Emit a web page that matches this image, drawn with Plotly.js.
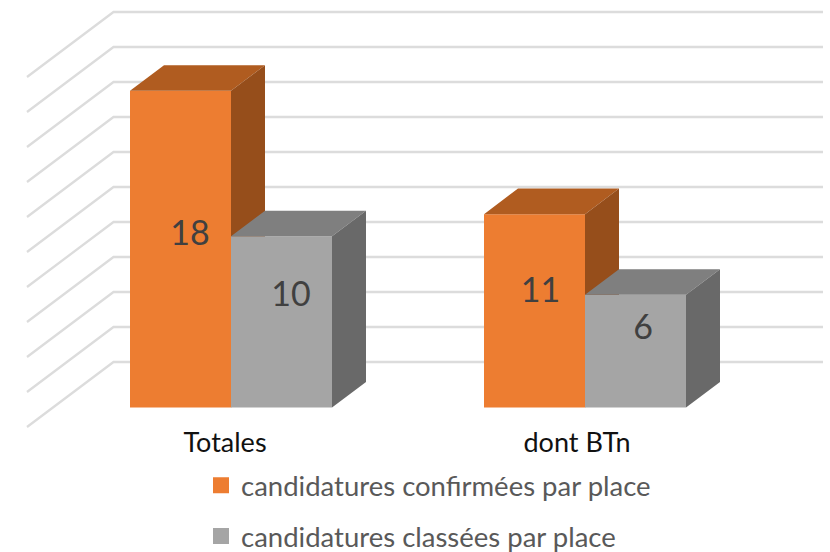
<!DOCTYPE html>
<html>
<head>
<meta charset="utf-8">
<script src="https://cdn.plot.ly/plotly-3.0.1.min.js"></script>
<style>html,body{margin:0;padding:0;background:#fff}#chart{width:830px;height:552px}</style>
</head>
<body>
<div id="chart"></div>
<script>
// Data
var categories = ['Totales', 'dont BTn'];
var seriesNames = ['candidatures confirmées par place', 'candidatures classées par place'];
var confirmedHeights = [18.1, 11.05];
var classedHeights = [9.78, 6.44];
var confirmedLabels = ['18', '11'];
var classedLabels = ['10', '6'];
var gridValues = [0, 2, 4, 6, 8, 10, 12, 14, 16, 18, 20];

// Scale and projection
var W = 830, H = 552, plotBottomPx = 429;
var pxPerCat = 354, cat0Px = 231, baselinePx = 407.5, pxPerUnit = 17.5;
var xAt = function (px) { return (px - cat0Px) / pxPerCat; };
var vOff = function (px) { return (baselinePx - px) / pxPerUnit; };
var xRange = [xAt(0), xAt(W)];
var yRange = [vOff(plotBottomPx), vOff(0)];
var barW = 101 / pxPerCat, depthX = 34 / pxPerCat, depthV = 25.5 / pxPerUnit;
var wallFrontX = xAt(27), wallBackX = xAt(113.5), wallEndX = xAt(823);
var wallFrontV = vOff(427), wallBackV = vOff(362);
var FONT = 'Lato, Carlito, Calibri, sans-serif';

var idx = categories.map(function (c, i) { return i; });

function faces(heights, left, topColor, sideColor, xa, ya) {
  var tx = [], ty = [], sx = [], sy = [];
  heights.forEach(function (h, i) {
    var x0 = i + left, x1 = x0 + barW;
    tx.push(x0, x1, x1 + depthX, x0 + depthX, x0, null);
    ty.push(h, h, h + depthV, h + depthV, h, null);
    sx.push(x1, x1 + depthX, x1 + depthX, x1, x1, null);
    sy.push(0, depthV, h + depthV, h, 0, null);
  });
  var base = {type: 'scatter', mode: 'lines', fill: 'toself', line: {width: 0}, showlegend: false, hoverinfo: 'skip', xaxis: xa, yaxis: ya};
  return [
    Object.assign({}, base, {x: tx, y: ty, fillcolor: topColor}),
    Object.assign({}, base, {x: sx, y: sy, fillcolor: sideColor})
  ];
}

var gx = [], gy = [];
gridValues.forEach(function (v) {
  gx.push(wallFrontX, wallBackX, wallEndX, null);
  gy.push(v + wallFrontV, v + wallBackV, v + wallBackV, null);
});
var grid = {type: 'scatter', mode: 'lines', x: gx, y: gy, line: {color: '#DCDCDC', width: 2.3}, showlegend: false, hoverinfo: 'skip', connectgaps: false};

var frontA = {type: 'bar', x: idx, y: confirmedHeights, width: barW, offset: -barW, marker: {color: '#ED7D31'}, showlegend: false, hoverinfo: 'skip', xaxis: 'x2', yaxis: 'y2'};
var frontB = {type: 'bar', x: idx, y: classedHeights, width: barW, offset: 0, marker: {color: '#A5A5A5'}, showlegend: false, hoverinfo: 'skip', xaxis: 'x3', yaxis: 'y3'};

var labelFont = {family: FONT, size: 34, color: '#404040'};
var labelShiftA = [9.5 / pxPerCat, 6 / pxPerCat], labelShiftB = [9.5 / pxPerCat, 7.5 / pxPerCat];
var labelLiftA = [0.74, 0.98], labelLiftB = [1.37, 1.17];
var textA = {type: 'scatter', mode: 'text', x: idx.map(function (i) { return i - barW / 2 + labelShiftA[i]; }), y: confirmedHeights.map(function (h, i) { return h / 2 + labelLiftA[i]; }), text: confirmedLabels, textposition: 'middle center', textfont: labelFont, showlegend: false, hoverinfo: 'skip', xaxis: 'x3', yaxis: 'y3'};
var textB = {type: 'scatter', mode: 'text', x: idx.map(function (i) { return i + barW / 2 + labelShiftB[i]; }), y: classedHeights.map(function (h, i) { return h / 2 + labelLiftB[i]; }), text: classedLabels, textposition: 'middle center', textfont: labelFont, showlegend: false, hoverinfo: 'skip', xaxis: 'x3', yaxis: 'y3'};

function legendItem(name, color, group) {
  return {type: 'scatter', mode: 'markers', x: [null], y: [null], name: name, legendgroup: group, marker: {symbol: 'square', size: 16, color: color}, hoverinfo: 'skip'};
}

var traces = [grid]
  .concat(faces(confirmedHeights, -barW, '#B05C20', '#964E1B', 'x2', 'y2'))
  .concat([frontA])
  .concat(faces(classedHeights, 0, '#7F7F7F', '#696969', 'x3', 'y3'))
  .concat([frontB, textA, textB,
    legendItem(seriesNames[0], '#ED7D31', 'a'),
    legendItem(seriesNames[1], '#A5A5A5', 'b')]);

var tickShift = [-6 / pxPerCat, -8 / pxPerCat];
var layout = {
  width: W, height: H,
  margin: {l: 0, r: 0, t: 0, b: H - plotBottomPx, pad: 0, autoexpand: false},
  paper_bgcolor: '#fff', plot_bgcolor: 'rgba(0,0,0,0)',
  hovermode: false, barmode: 'overlay',
  font: {family: FONT},
  xaxis: {range: xRange, type: 'linear', showgrid: false, zeroline: false, showline: false, ticks: '',
    tickmode: 'array', tickvals: idx.map(function (i) { return i + tickShift[i]; }), ticktext: categories,
    tickfont: {family: FONT, size: 27, color: '#111111'}, ticklabelstandoff: -5, automargin: false},
  yaxis: {range: yRange, showgrid: false, zeroline: false, showline: false, showticklabels: false, ticks: '', automargin: false},
  xaxis2: {range: xRange, type: 'linear', overlaying: 'x', visible: false},
  yaxis2: {range: yRange, overlaying: 'y', visible: false},
  xaxis3: {range: xRange, type: 'linear', overlaying: 'x', visible: false},
  yaxis3: {range: yRange, overlaying: 'y', visible: false},
  legend: {x: 201 / W, xanchor: 'left', y: -0.0743, yanchor: 'top', orientation: 'v', tracegroupgap: 12,
    font: {family: FONT, size: 27.5, color: '#595959'}, itemclick: false, itemdoubleclick: false, bgcolor: 'rgba(0,0,0,0)', traceorder: 'grouped'},
  showlegend: true
};
Plotly.newPlot('chart', traces, layout, {displayModeBar: false, staticPlot: true});
</script>
</body>
</html>
